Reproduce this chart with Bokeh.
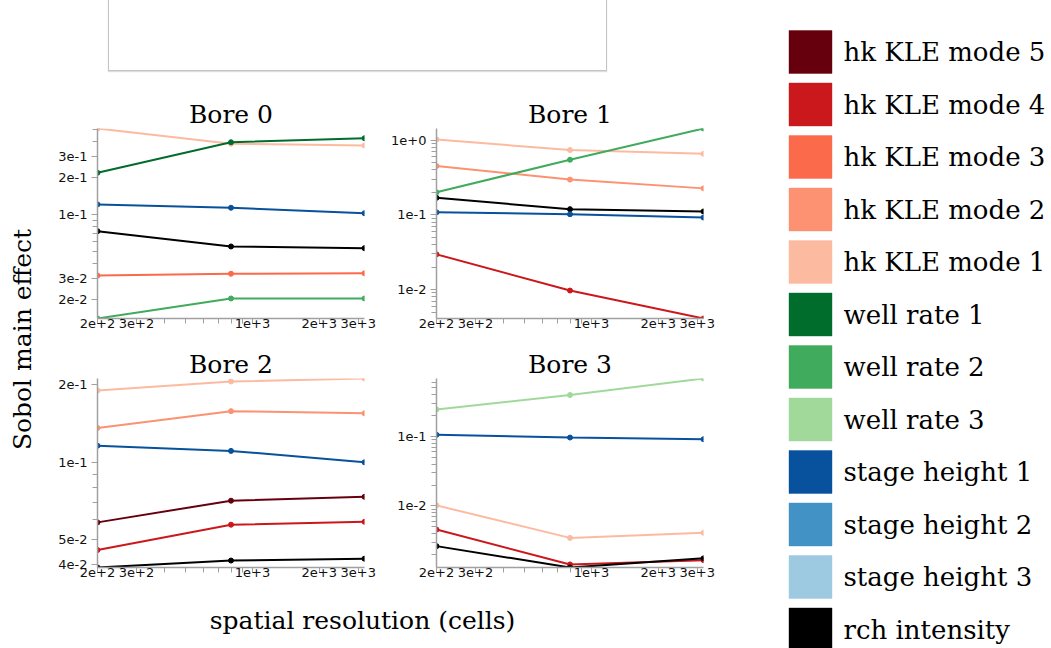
import math
from bokeh.plotting import figure
from bokeh.layouts import row, column
from bokeh.models import Range1d, FixedTicker, CustomJSTickFormatter, Div
from bokeh.core.properties import value
from bokeh.embed import file_html
from bokeh.resources import INLINE

# ---------------- data ----------------
resolution = [200, 800, 3200]

series_names = ["hk KLE mode 5", "hk KLE mode 4", "hk KLE mode 3", "hk KLE mode 2",
                "hk KLE mode 1", "well rate 1", "well rate 2", "well rate 3",
                "stage height 1", "stage height 2", "stage height 3", "rch intensity"]
series_colors = ["#67000d", "#cb181d", "#fb6a4a", "#fc9272", "#fcbba1", "#006d2c",
                 "#41ab5d", "#a1d99b", "#08519c", "#4292c6", "#9ecae1", "#000000"]

bore0 = {
    "hk KLE mode 1": [0.507, 0.380, 0.368],
    "well rate 1": [0.220, 0.391, 0.422],
    "stage height 1": [0.121, 0.1136, 0.1025],
    "rch intensity": [0.073, 0.0547, 0.053],
    "hk KLE mode 3": [0.0316, 0.0327, 0.0330],
    "well rate 2": [0.01405, 0.0205, 0.0205],
}
bore1 = {
    "hk KLE mode 1": [1.02, 0.736, 0.656],
    "hk KLE mode 2": [0.45, 0.296, 0.226],
    "rch intensity": [0.169, 0.119, 0.111],
    "stage height 1": [0.108, 0.102, 0.092],
    "hk KLE mode 4": [0.0296, 0.0097, 0.0041],
    "well rate 2": [0.20, 0.546, 1.43],
}
bore2 = {
    "hk KLE mode 1": [0.190, 0.206, 0.2116],
    "hk KLE mode 2": [0.136, 0.158, 0.155],
    "stage height 1": [0.116, 0.1107, 0.100],
    "hk KLE mode 5": [0.0584, 0.0709, 0.0734],
    "hk KLE mode 4": [0.0456, 0.0572, 0.0587],
    "rch intensity": [0.0390, 0.0415, 0.0422],
}
bore3 = {
    "well rate 3": [0.246, 0.396, 0.685],
    "stage height 1": [0.1058, 0.0967, 0.0915],
    "hk KLE mode 1": [0.0102, 0.00347, 0.0041],
    "hk KLE mode 4": [0.00458, 0.00144, 0.00166],
    "rch intensity": [0.00264, 0.0013, 0.00176],
}

x_major = [200, 300, 1000, 2000, 3000]
x_minor = [400, 500, 600, 700, 800, 900]

bore0_y_major = [0.02, 0.03, 0.1, 0.2, 0.3]
bore0_y_minor = [0.04, 0.05, 0.06, 0.07, 0.08, 0.09, 0.4, 0.5]
bore1_y_major = [0.01, 0.1, 1.0]
bore1_y_minor = [0.005, 0.006, 0.007, 0.008, 0.009, 0.02, 0.03, 0.04, 0.05, 0.06,
                 0.07, 0.08, 0.09, 0.2, 0.3, 0.4, 0.5, 0.6, 0.7, 0.8, 0.9]
bore2_y_major = [0.04, 0.05, 0.1, 0.2]
bore2_y_minor = [0.06, 0.07, 0.08, 0.09]
bore3_y_major = [0.01, 0.1]
bore3_y_minor = [0.002, 0.003, 0.004, 0.005, 0.006, 0.007, 0.008, 0.009, 0.02, 0.03,
                 0.04, 0.05, 0.06, 0.07, 0.08, 0.09, 0.2, 0.3, 0.4, 0.5, 0.6]

color_of = dict(zip(series_names, series_colors))

SERIF = "DejaVu Serif"
SANS = "DejaVu Sans"
AX_GRAY = "#a0a0a0"


def make_plot(title, data, y_major, y_minor, width, height, left, right, top, bottom):
    vals = [v for ys in data.values() for v in ys]
    p = figure(width=width, height=height, x_axis_type="log", y_axis_type="log",
               x_range=Range1d(min(resolution), max(resolution)),
               y_range=Range1d(min(vals), max(vals)),
               output_backend="svg", toolbar_location=None,
               min_border_left=left, min_border_right=right,
               min_border_top=top, min_border_bottom=bottom, title=title)
    p.title.text_font = SERIF
    p.title.text_font_size = "25px"
    p.title.text_font_style = "normal"
    p.title.text_color = "#000000"
    p.title.align = "center"
    p.title.standoff = 0
    p.title.offset = 0
    p.outline_line_color = None
    p.grid.visible = False
    p.background_fill_color = None
    p.border_fill_color = None
    fmt = CustomJSTickFormatter(code="return tick.toExponential(0);")
    p.xaxis.ticker = FixedTicker(ticks=x_major, minor_ticks=x_minor)
    p.yaxis.ticker = FixedTicker(ticks=y_major, minor_ticks=y_minor)
    p.xaxis.formatter = fmt
    p.yaxis.formatter = fmt
    for ax in (p.xaxis, p.yaxis):
        ax.axis_line_color = AX_GRAY
        ax.axis_line_width = 1.5
        ax.major_tick_line_color = AX_GRAY
        ax.minor_tick_line_color = AX_GRAY
        ax.major_tick_in = 0
        ax.minor_tick_in = 0
        ax.major_label_text_font = SANS
        ax.major_label_text_font_size = "13px"
        ax.major_label_text_color = "#111111"
    p.yaxis.major_tick_out = 6
    p.yaxis.minor_tick_out = 5
    p.yaxis.major_label_standoff = 4
    p.xaxis.major_tick_out = 5
    p.xaxis.minor_tick_out = 5
    p.xaxis.major_label_standoff = -5
    for name, ys in data.items():
        c = color_of[name]
        p.line(resolution, ys, line_color=c, line_width=2)
        p.scatter(resolution, ys, size=5, color=c)
    return p


# layout geometry
TOP_H = 80
ROW1_TOP, FRAME1_H, ROW1_BOT = 48, 190, 22
ROW2_TOP, FRAME2_H, ROW2_BOT = 38, 189, 20
FRAME_W = 267
YL_W = 40

h1 = ROW1_TOP + FRAME1_H + ROW1_BOT
h2 = ROW2_TOP + FRAME2_H + ROW2_BOT

p0 = make_plot("Bore 0", bore0, bore0_y_major, bore0_y_minor, 57 + FRAME_W + 12, h1, 57, 12, ROW1_TOP, ROW1_BOT)
p1 = make_plot("Bore 1", bore1, bore1_y_major, bore1_y_minor, 60 + FRAME_W + 20, h1, 60, 20, ROW1_TOP, ROW1_BOT)
p2 = make_plot("Bore 2", bore2, bore2_y_major, bore2_y_minor, 57 + FRAME_W + 12, h2, 57, 12, ROW2_TOP, ROW2_BOT)
p3 = make_plot("Bore 3", bore3, bore3_y_major, bore3_y_minor, 60 + FRAME_W + 20, h2, 60, 20, ROW2_TOP, ROW2_BOT)

left_w = YL_W + p0.width + p1.width


def blank(w, h):
    f = figure(width=w, height=h, x_range=Range1d(0, w), y_range=Range1d(h, 0),
               output_backend="svg", toolbar_location=None,
               x_axis_location=None, y_axis_location=None,
               min_border=0, min_border_left=0, min_border_right=0,
               min_border_top=0, min_border_bottom=0)
    f.outline_line_color = None
    f.grid.visible = False
    f.background_fill_color = None
    f.border_fill_color = None
    return f


# y label
ylab = blank(YL_W, h1 + h2)
ylab.text(x=[22], y=[339 - TOP_H], text=["Sobol main effect"], angle=math.pi / 2,
          text_font=value(SERIF), text_font_size="25px", text_align="center",
          text_baseline="middle", text_color="#000000")

# x label
XL_H = 648 - TOP_H - h1 - h2
xlab = blank(left_w, XL_H)
xlab.text(x=[362], y=[33], text=["spatial resolution (cells)"],
          text_font=value(SERIF), text_font_size="25px", text_align="center",
          text_baseline="middle", text_color="#000000")

# top box
top = Div(width=left_w, height=TOP_H, margin=0,
          text='<div style="margin-left:108px;width:499px;height:71px;'
               'border:1px solid #c4c4c4;border-top:none;'
               'box-shadow:0 1px 1px #dddddd;"></div>')

# legend
LEG_W = 1051 - left_w
leg = blank(LEG_W, 648)
n = len(series_names)
sq_x = [788 - left_w + 22] * n
sq_y = [51.5 + 52.5 * i for i in range(n)]
leg.rect(x=sq_x, y=sq_y, width=43, height=43, fill_color=series_colors,
         line_color=series_colors, line_alpha=0.4)
leg.text(x=[843 - left_w] * n, y=sq_y, text=series_names,
         text_font=value(SERIF), text_font_size="26px", text_align="left",
         text_baseline="middle", text_color="#000000")

grid = column(row(p0, p1), row(p2, p3))
left_block = column(top, row(ylab, grid), xlab)
layout = row(left_block, leg)

open("out.html", "w").write(file_html(layout, INLINE))
